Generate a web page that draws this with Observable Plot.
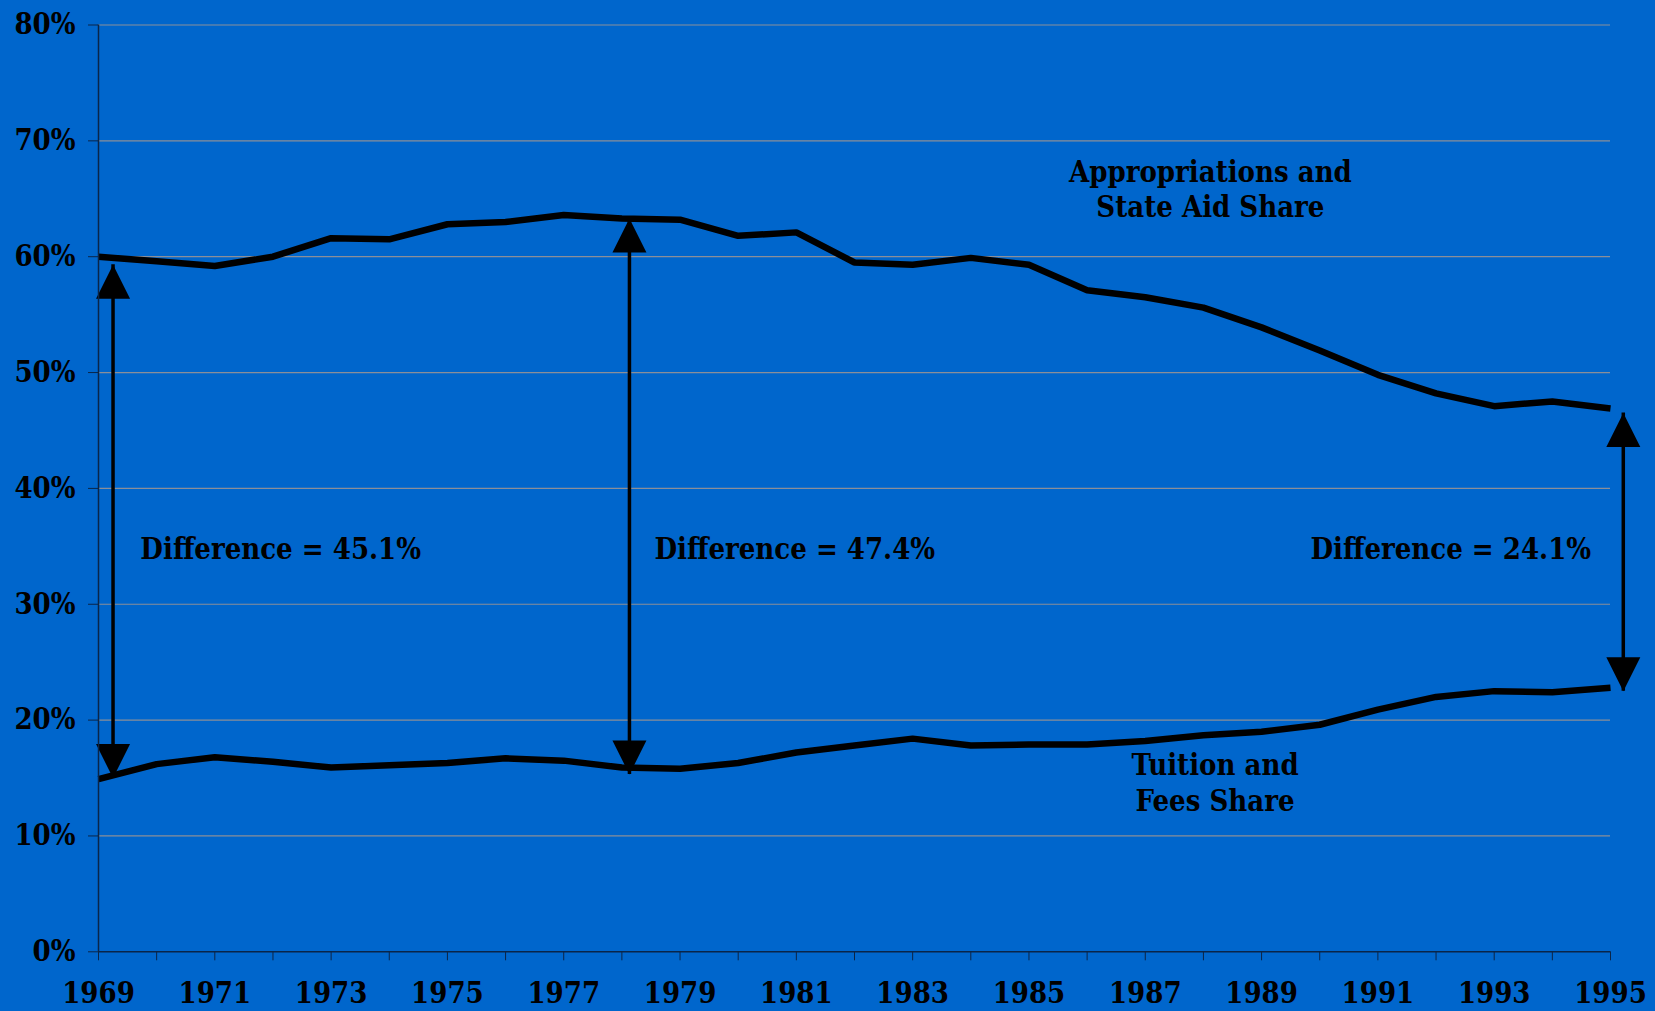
<!DOCTYPE html>
<html>
<head>
<meta charset="utf-8">
<script src="https://cdn.jsdelivr.net/npm/d3@7"></script>
<script src="https://cdn.jsdelivr.net/npm/@observablehq/plot@0.6"></script>
<style>
  html, body { margin: 0; padding: 0; background: #0066cc; overflow: hidden; }
  svg text { font-stretch: condensed; }
</style>
</head>
<body>
<div id="chart"></div>
<script>
// ---- Data ----
const years = [1969, 1970, 1971, 1972, 1973, 1974, 1975, 1976, 1977, 1978, 1979, 1980, 1981, 1982,
               1983, 1984, 1985, 1986, 1987, 1988, 1989, 1990, 1991, 1992, 1993, 1994, 1995];
const appropriationsShare = [60.0, 59.6, 59.2, 60.0, 61.6, 61.5, 62.8, 63.0, 63.6, 63.3, 63.2, 61.8, 62.1, 59.5,
                             59.3, 59.9, 59.3, 57.1, 56.5, 55.6, 53.9, 51.9, 49.8, 48.2, 47.1, 47.5, 46.9];
const tuitionShare = [14.9, 16.2, 16.8, 16.4, 15.9, 16.1, 16.3, 16.7, 16.5, 15.9, 15.8, 16.3, 17.2, 17.8,
                      18.4, 17.8, 17.9, 17.9, 18.2, 18.7, 19.0, 19.6, 20.9, 22.0, 22.5, 22.4, 22.8];
const yTicks = [0, 10, 20, 30, 40, 50, 60, 70, 80];
const differenceLabels = ["Difference = 45.1%", "Difference = 47.4%", "Difference = 24.1%"];
const seriesLabels = ["Appropriations and\nState Aid Share", "Tuition and\nFees Share"];

// ---- Annotation anchors (data coordinates) ----
const arrowX = [1969.25, 1978.13, 1995.22];
const arrowTop = [59.3, 63.3, 46.5];
const arrowBottom = [15.0, 15.3, 22.5];
const diffLabelX = [1969.72, 1978.56, 1989.84];
const diffLabelY = 34.7;

const rows = [];
years.forEach((yr, i) => {
  rows.push({year: yr, value: appropriationsShare[i], series: "Appropriations"});
  rows.push({year: yr, value: tuitionShare[i], series: "Tuition"});
});
const arrows = arrowX.map((x, i) => ({x, top: arrowTop[i], bottom: arrowBottom[i]}));
const diffs = differenceLabels.map((t, i) => ({x: diffLabelX[i], y: diffLabelY, text: t}));
const seriesText = [
  {x: 1988.12, y: 65.9, text: seriesLabels[0]},
  {x: 1988.2, y: 14.7, text: seriesLabels[1]}
];

// Filled triangle arrowheads with the tip at the anchor point
const headUp = {draw(ctx) { ctx.moveTo(0, 0); ctx.lineTo(17, 34); ctx.lineTo(-17, 34); ctx.closePath(); }};
const headDown = {draw(ctx) { ctx.moveTo(0, 0); ctx.lineTo(17, -34); ctx.lineTo(-17, -34); ctx.closePath(); }};

const font = "'DejaVu Serif Condensed', 'DejaVu Serif', serif";
const fs = 29;
const axisColor = "#0a2548";

const chart = Plot.plot({
  width: 1655,
  height: 1011,
  marginLeft: 98,
  marginRight: 45,
  marginTop: 24.5,
  marginBottom: 59.7,
  style: {background: "#0066cc", color: "black", fontFamily: font, fontSize: fs + "px", fontWeight: "bold"},
  x: {domain: [1969, 1995]},
  y: {domain: [0, 80]},
  marks: [
    Plot.gridY([10, 20, 30, 40, 50, 60, 70, 80], {stroke: "#8a8f99", strokeOpacity: 1, strokeWidth: 1.2}),
    Plot.line(rows, {x: "year", y: "value", z: "series", stroke: "black", strokeWidth: 6.5, strokeLinejoin: "miter", strokeLinecap: "butt"}),
    Plot.ruleX(arrows, {x: "x", y1: "bottom", y2: "top", stroke: "black", strokeWidth: 3.5}),
    Plot.dot(arrows, {x: "x", y: "top", symbol: headUp, fill: "black", stroke: "none", r: 10}),
    Plot.dot(arrows, {x: "x", y: "bottom", symbol: headDown, fill: "black", stroke: "none", r: 10}),
    Plot.text(diffs, {x: "x", y: "y", text: "text", textAnchor: "start", fill: "black", fontSize: fs, fontWeight: "bold", fontFamily: font}),
    Plot.text(seriesText, {x: "x", y: "y", text: "text", textAnchor: "middle", lineHeight: 1.22, fill: "black", fontSize: fs, fontWeight: "bold", fontFamily: font}),
    Plot.ruleX([1969], {y1: 0, y2: 80, stroke: axisColor, strokeWidth: 1.5}),
    Plot.ruleY([0], {stroke: axisColor, strokeWidth: 1.5}),
    Plot.axisY(yTicks, {tickSize: 10, tickPadding: 13, tickFormat: d => d + "%", stroke: axisColor, fill: "black", fontSize: fs, fontWeight: "bold", fontFamily: font, label: null}),
    Plot.axisX(years, {tickSize: 9, tickPadding: 22, tickFormat: d => (d % 2 ? String(d) : ""), stroke: axisColor, fill: "black", fontSize: fs, fontWeight: "bold", fontFamily: font, label: null})
  ]
});
document.getElementById("chart").appendChild(chart);
</script>
</body>
</html>
